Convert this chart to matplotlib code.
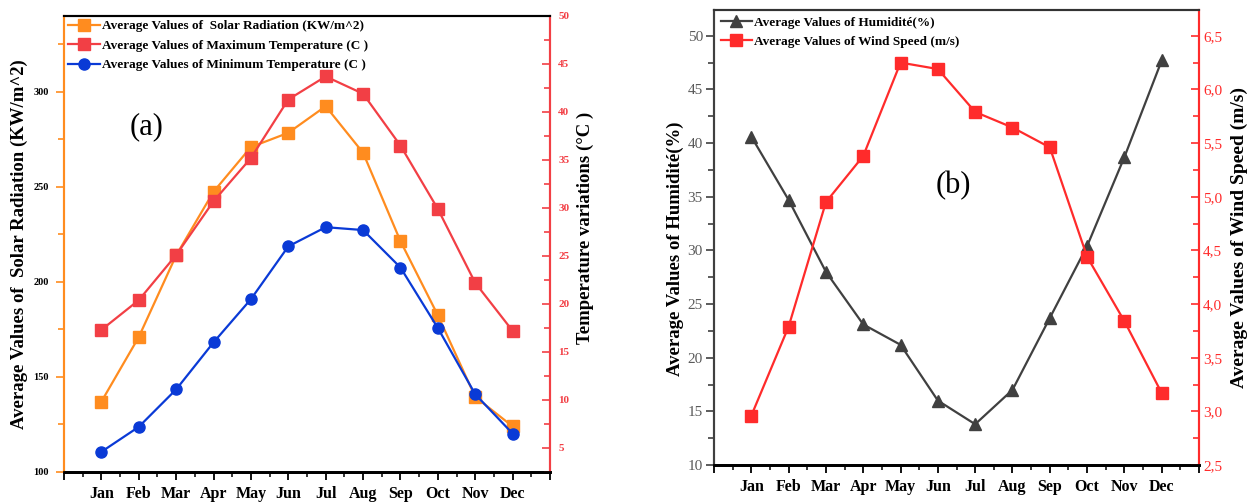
import numpy as np
import matplotlib.pyplot as plt
from matplotlib.ticker import MultipleLocator, FuncFormatter

months = ["Jan", "Feb", "Mar", "Apr", "May", "Jun",
          "Jul", "Aug", "Sep", "Oct", "Nov", "Dec"]

# panel (a)
solar_rad = [137, 171, 214, 247.5, 271, 278.5, 292.5, 268, 221.5, 182.5, 139.5, 124]
max_temp = [17.3, 20.4, 25.1, 30.7, 35.2, 41.3, 43.7, 41.9, 36.5, 29.9, 22.2, 17.2]
min_temp = [4.6, 7.2, 11.1, 16.0, 20.5, 26.0, 28.0, 27.7, 23.8, 17.5, 10.6, 6.5]

# panel (b)
humidity = [40.6, 34.7, 28.0, 23.1, 21.2, 16.0, 13.8, 17.0, 23.7, 30.4, 38.7, 47.7]
wind_speed = [2.96, 3.79, 4.95, 5.38, 6.25, 6.19, 5.79, 5.645, 5.46, 4.44, 3.84, 3.17]

serif = "Liberation Serif"
plt.rcParams["font.family"] = serif

ORANGE = "#FF8C1F"
RED_A = "#F23F45"
BLUE = "#0A3AD6"
GRAY = "#404040"
RED_B = "#FF2B2B"

x = np.arange(1, 13)

fig = plt.figure(figsize=(12.52, 5.04), dpi=100)


def style_xaxis(ax):
    ax.set_xlim(0, 13)
    ax.set_xticks(np.arange(0, 14))
    ax.set_xticklabels([""] + months + [""], fontsize=11.5, fontweight="bold")
    ax.xaxis.set_minor_locator(MultipleLocator(0.5))
    ax.tick_params(axis="x", which="major", direction="out", length=6, width=1.3, pad=4)
    ax.tick_params(axis="x", which="minor", direction="out", length=3.5, width=1.1)


# ---- (a) solar radiation and temperatures ----
ax1 = fig.add_axes([0.0511, 0.0635, 0.3882, 0.9048])
ax1r = ax1.twinx()

l1, = ax1.plot(x, solar_rad, color=ORANGE, marker="s", ms=8, lw=1.6,
               label="Average Values of  Solar Radiation (KW/m^2)")
l2, = ax1r.plot(x, max_temp, color=RED_A, marker="s", ms=8, lw=1.6,
                label="Average Values of Maximum Temperature (C )")
l3, = ax1r.plot(x, min_temp, color=BLUE, marker="o", ms=8, lw=1.6,
                label="Average Values of Minimum Temperature (C )")

ax1.set_ylim(100, 340)
ax1.set_yticks([100, 150, 200, 250, 300])
ax1.yaxis.set_minor_locator(MultipleLocator(25))
ax1.tick_params(axis="y", which="both", colors=ORANGE, labelcolor="black",
                labelsize=7.5, direction="out", width=1.2, pad=5)
ax1.tick_params(axis="y", which="major", length=6)
ax1.tick_params(axis="y", which="minor", length=4)
for lab in ax1.get_yticklabels():
    lab.set_fontweight("bold")
ax1.set_ylabel("Average Values of  Solar Radiation (KW/m^2)",
               fontsize=13.5, fontweight="bold", labelpad=4)

ax1r.set_ylim(2.5, 50)
ax1r.set_yticks(np.arange(5, 51, 5))
ax1r.yaxis.set_minor_locator(MultipleLocator(2.5))
ax1r.tick_params(axis="y", which="both", colors=RED_A, labelsize=8,
                 direction="in", width=1.2, pad=6)
ax1r.tick_params(axis="y", which="major", length=6)
ax1r.tick_params(axis="y", which="minor", length=4)
for lab in ax1r.get_yticklabels():
    lab.set_fontweight("bold")
ax1r.set_ylabel("Temperature variations (°C )", fontsize=13.5,
                fontweight="bold", labelpad=5)
ax1r.yaxis.label.set_y(0.535)

for a in (ax1, ax1r):
    a.spines["left"].set_color(ORANGE)
    a.spines["right"].set_color(RED_A)
    a.spines["top"].set_color("black")
    a.spines["bottom"].set_color("black")
    for s in a.spines.values():
        s.set_linewidth(1.5)
    a.spines["bottom"].set_linewidth(2)

style_xaxis(ax1)
ax1.text(2.22, 281.6, "(a)", fontsize=22, family=serif, ha="center", va="center")

ax1r.legend(handles=[l1, l2, l3], loc="upper left", frameon=False,
            prop={"family": serif, "weight": "bold", "size": 9.5},
            handlelength=2.4, handletextpad=0.15, labelspacing=0.55,
            borderaxespad=0.0, borderpad=0.3, bbox_to_anchor=(0.0, 1.0))

# ---- (b) humidity and wind speed ----
ax2 = fig.add_axes([0.5703, 0.0774, 0.3874, 0.9027])
ax2r = ax2.twinx()

l4, = ax2.plot(x, humidity, color=GRAY, marker="^", ms=9, lw=1.6,
               label="Average Values of Humidité(%)")
l5, = ax2r.plot(x, wind_speed, color=RED_B, marker="s", ms=8, lw=1.6,
                label="Average Values of Wind Speed (m/s)")

ax2.set_ylim(10, 52.4)
ax2.set_yticks(np.arange(10, 51, 5))
ax2.yaxis.set_minor_locator(MultipleLocator(2.5))
ax2.tick_params(axis="y", which="both", colors=GRAY, labelcolor="#5a5a5a",
                labelsize=11, direction="out", width=1.2, pad=2)
ax2.tick_params(axis="y", which="major", length=6)
ax2.tick_params(axis="y", which="minor", length=4)
ax2.set_ylabel("Average Values of Humidité(%)", fontsize=13.5,
               fontweight="bold")
ax2.yaxis.set_label_coords(-0.062, 0.475)

ax2r.set_ylim(2.5, 6.74)
ax2r.set_yticks(np.arange(2.5, 6.6, 0.5))
ax2r.yaxis.set_minor_locator(MultipleLocator(0.25))
ax2r.yaxis.set_major_formatter(FuncFormatter(lambda v, p: f"{v:.1f}".replace(".", ",")))
ax2r.tick_params(axis="y", which="both", colors=RED_B, labelsize=11,
                 direction="in", width=1.2, pad=3)
ax2r.tick_params(axis="y", which="major", length=6)
ax2r.tick_params(axis="y", which="minor", length=4)
ax2r.set_ylabel("Average Values of Wind Speed (m/s)", fontsize=14,
                fontweight="bold", labelpad=6)

for a in (ax2, ax2r):
    a.spines["left"].set_color(GRAY)
    a.spines["right"].set_color(RED_B)
    a.spines["top"].set_color("#333333")
    a.spines["bottom"].set_color("black")
    for s in a.spines.values():
        s.set_linewidth(1.5)
    a.spines["bottom"].set_linewidth(2)

style_xaxis(ax2)
ax2.text(6.42, 36.0, "(b)", fontsize=22, family=serif, ha="center", va="center")

ax2r.legend(handles=[l4, l5], loc="upper left", frameon=False,
            prop={"family": serif, "weight": "bold", "size": 9.5},
            handlelength=2.4, handletextpad=0.15, labelspacing=0.5,
            borderaxespad=0.0, borderpad=0.5, bbox_to_anchor=(0.0, 1.0))

fig.savefig("out.png", dpi=100)
